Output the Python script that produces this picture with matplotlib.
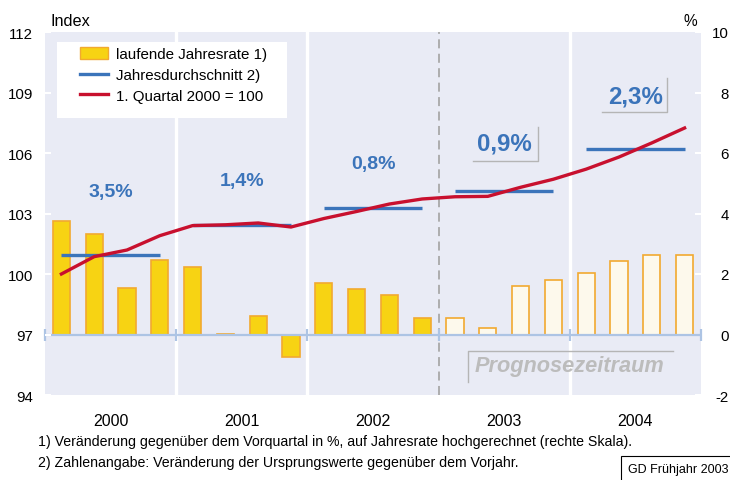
import numpy as np
import matplotlib as mpl
mpl.use('Agg')
import matplotlib.pyplot as plt
from matplotlib.patches import Patch, Rectangle
from matplotlib.lines import Line2D

plt.rcParams['font.family'] = ['Liberation Sans', 'DejaVu Sans']
plt.rcParams['axes.unicode_minus'] = False

## Data ##
years = ['2000', '2001', '2002', '2003', '2004']
# laufende Jahresrate (right scale, %), one value per quarter
rate = [3.75, 3.31, 1.53, 2.45, 2.22, 0.03, 0.60, -0.75, 1.69, 1.49,
        1.32, 0.55, 0.56, 0.20, 1.61, 1.81, 2.02, 2.42, 2.63, 2.63]
# 1. Quartal 2000 = 100 (left scale)
index = [100.0, 100.86, 101.19, 101.9, 102.4, 102.44, 102.53, 102.33, 102.75, 103.1,
         103.47, 103.72, 103.83, 103.85, 104.3, 104.7, 105.2, 105.8, 106.5, 107.24]
# Jahresdurchschnitt (left scale)
avg = [100.96, 102.43, 103.26, 104.13, 106.21]
avg_txt = ['3,5%', '1,4%', '0,8%', '0,9%', '2,3%']
first_forecast = 12  # 2003 Q1

## Colours ##
c_bg = '#e9ebf5'; c_yel = '#f7d313'; c_org = '#f2a930'; c_cream = '#fdf9ec'
c_blue = '#3b74ba'; c_red = '#c8102e'; c_zero = '#adc4e4'; c_gray = '#b5b5b5'

####################################################################################################

fig = plt.figure(figsize=(7.3, 4.81), dpi=100)
ax = fig.add_axes([45/730, 1-396/481, 656/730, 363/481])
ax.set_facecolor(c_bg)
for s in ax.spines.values(): s.set_visible(False)

q = np.arange(len(rate))
nq = len(q)

## Bars (percent axis) ##
fc = [c_yel if i < first_forecast else c_cream for i in q]
ax.bar(q, rate, width=0.52, color=fc, edgecolor=c_org, linewidth=1.2, zorder=3)
ax.set_xlim(-0.5, nq - 0.5)
ax.set_ylim(-2, 10)

# year separators
bounds = np.arange(4, nq, 4) - 0.5
for b in bounds:
  if b == first_forecast - 0.5:
    ax.axvline(b, color='#a8a8a8', lw=1.3, ls=(0, (5, 3)), zorder=1)
  else:
    ax.axvline(b, color='white', lw=2.4, zorder=1)

# zero line with small marks at year bounds
ax.axhline(0, color=c_zero, lw=1.6, zorder=4)
edges = np.arange(0, nq + 1, 4) - 0.5
ax.plot(edges, np.zeros(len(edges)), ls='none', marker='|', ms=8, mew=1.6, color=c_zero, zorder=4, clip_on=False)

ax.set_xticks(np.arange(1.5, nq, 4))
ax.set_xticklabels(years, fontsize=11.5)
ax.tick_params(axis='x', length=0, pad=13)

## Index axis ##
ax2 = ax.twinx()
for s in ax2.spines.values(): s.set_visible(False)
ax.yaxis.tick_right()
ax2.yaxis.tick_left()
ax2.set_ylim(94, 112)
ax2.set_yticks(np.arange(94, 113, 3))
ax.set_yticks(np.arange(-2, 11, 2))
ax2.tick_params(axis='y', direction='in', color='white', length=4, width=1.5, labelsize=10.8, pad=8.6)
ax.tick_params(axis='y', direction='in', color='white', length=4, width=1.5, labelsize=10.8, pad=20)
plt.setp(ax.get_yticklabels(), ha='right')

for k in range(len(avg)):
  ax2.plot([4*k, 4*k + 3], [avg[k], avg[k]], color=c_blue, lw=2.4, solid_capstyle='butt', zorder=3)
ax2.plot(q, index, color=c_red, lw=2.4, zorder=4)

## Year change labels ##
lab_y = [104.07, 104.66, 105.5, 106.5, 108.84]
lab_fs = [14, 14, 14, 17.3, 17.3]
for k in range(len(avg)):
  ax2.text(4*k + 1.5, lab_y[k], avg_txt[k], color=c_blue, fontsize=lab_fs[k], fontweight='bold',
           ha='center', va='center', zorder=5)
# boxes (right + bottom edge) behind forecast labels
for (x0, x1, y0, y1) in [(0.652, 0.7515, 0.645, 0.738), (0.8495, 0.9486, 0.779, 0.872)]:
  ax2.plot([x0, x1, x1], [y0, y0, y1], transform=ax2.transAxes, color=c_gray, lw=1.0, zorder=5)

## Prognosezeitraum ##
ax2.plot([0.645, 0.645, 0.957], [0.036, 0.121, 0.121], transform=ax2.transAxes, color=c_gray, lw=1.0, zorder=5)
ax2.text(0.80, 0.08, 'Prognosezeitraum', transform=ax2.transAxes, fontsize=15.7, fontweight='bold',
         fontstyle='italic', color='#bcbcbc', ha='center', va='center', zorder=5)

## Legend ##
ax2.add_patch(Rectangle((0.018, 0.763), 0.3506, 0.209, transform=ax2.transAxes, facecolor='white',
                        edgecolor='none', zorder=6))
handles = [Patch(facecolor=c_yel, edgecolor=c_org, linewidth=1.0),
           Line2D([], [], color=c_blue, lw=2.4),
           Line2D([], [], color=c_red, lw=2.4)]
names = ['laufende Jahresrate 1)', 'Jahresdurchschnitt 2)', '1. Quartal 2000 = 100']
leg = ax2.legend(handles, names, loc='upper left', bbox_to_anchor=(0.0534, 0.958), frameon=False,
                 fontsize=10.9, borderpad=0, borderaxespad=0, handlelength=1.85, handleheight=0.75,
                 handletextpad=0.5, labelspacing=0.45)
leg.set_zorder(7)

## Texts around ##
fig.text(50/730, 1-21/481, 'Index', fontsize=11.7, ha='left', va='center')
fig.text(690/730, 1-21/481, '%', fontsize=11.2, ha='center', va='center')
fig.text(38/730, 1-442/481, '1) Veränderung gegenüber dem Vorquartal in %, auf Jahresrate hochgerechnet (rechte Skala).',
         fontsize=10.15, ha='left', va='center')
fig.text(38/730, 1-463/481, '2) Zahlenangabe: Veränderung der Ursprungswerte gegenüber dem Vorjahr.',
         fontsize=10.15, ha='left', va='center')
fig.text(628/730, 1-470/481, 'GD Frühjahr 2003', fontsize=9, ha='left', va='center',
         bbox=dict(boxstyle='square,pad=0.55', facecolor='white', edgecolor='black', linewidth=0.8))

plt.savefig('out.png', dpi=100)
